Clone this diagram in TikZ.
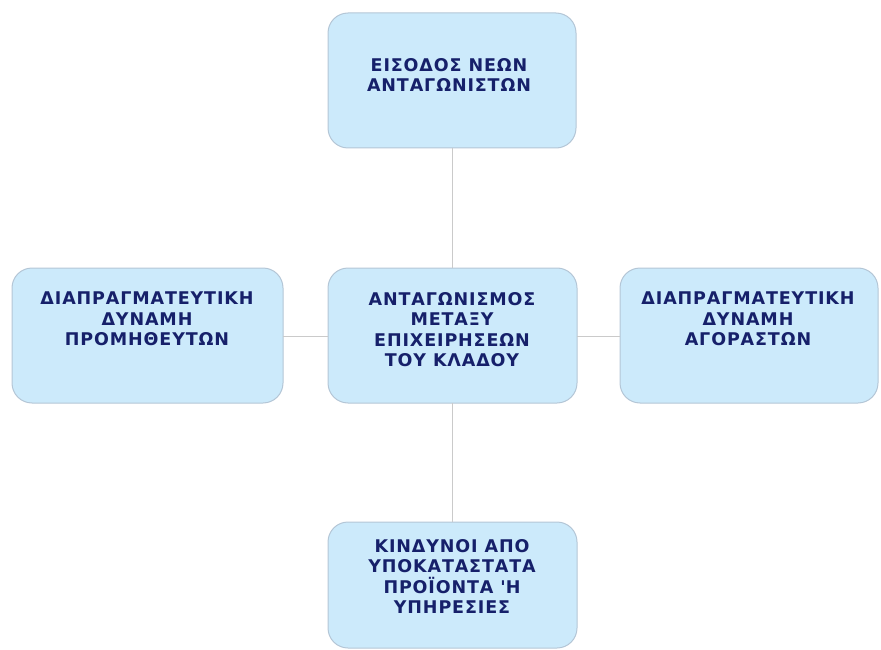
\documentclass[tikz,border=0pt]{standalone}
\usepackage{fontspec}
\setmainfont{DejaVu Sans}
\definecolor{boxfill}{HTML}{CCEAFB}
\definecolor{boxline}{HTML}{B4C6D6}
\definecolor{txt}{HTML}{16206A}
\definecolor{conn}{HTML}{CACACA}
\begin{document}
\begin{tikzpicture}[x=1pt,y=-1pt,
  force/.style={draw=boxline, line width=1pt, fill=boxfill, rounded corners=20pt},
  lbl/.style={align=center, text=txt, inner sep=0pt, font=\fontsize{17.5}{20.5}\selectfont\bfseries\addfontfeature{LetterSpace=5}, anchor=north},
  link/.style={draw=conn, line width=1pt}]
\useasboundingbox (0,0) rectangle (881,650);
% boxes
\path[force] (328,13) rectangle (576,148);
\path[force] (328,268) rectangle (577,403);
\path[force] (328,522) rectangle (577,648);
\path[force] (12,268) rectangle (283,403);
\path[force] (620,268) rectangle (878,403);
\coordinate (topS) at (452,148);
\coordinate (cenN) at (452,268);
\coordinate (cenS) at (452,403);
\coordinate (botN) at (452,522);
\coordinate (cenW) at (328,336);
\coordinate (lefE) at (283,336);
\coordinate (cenE) at (577,336);
\coordinate (rigW) at (620,336);
\draw[link] (topS) -- (cenN);
\draw[link] (cenS) -- (botN);
\draw[link] (lefE) -- (cenW);
\draw[link] (cenE) -- (rigW);
\node[lbl] (t) at (449,58) {ΕΙΣΟΔΟΣ ΝΕΩΝ\\ΑΝΤΑΓΩΝΙΣΤΩΝ};
\node[lbl] (c) at (452,292) {ΑΝΤΑΓΩΝΙΣΜΟΣ\\ΜΕΤΑΞΥ\\ΕΠΙΧΕΙΡΗΣΕΩΝ\\ΤΟΥ ΚΛΑΔΟΥ};
\node[lbl] (b) at (452,539) {ΚΙΝΔΥΝΟΙ ΑΠΟ\\ΥΠΟΚΑΤΑΣΤΑΤΑ\\ΠΡΟΪΟΝΤΑ \textquotesingle Η\\ΥΠΗΡΕΣΙΕΣ};
\node[lbl] (l) at (147,292) {ΔΙΑΠΡΑΓΜΑΤΕΥΤΙΚΗ\\ΔΥΝΑΜΗ\\ΠΡΟΜΗΘΕΥΤΩΝ};
\node[lbl] (r) at (748,292) {ΔΙΑΠΡΑΓΜΑΤΕΥΤΙΚΗ\\ΔΥΝΑΜΗ\\ΑΓΟΡΑΣΤΩΝ};
\end{tikzpicture}
\end{document}
